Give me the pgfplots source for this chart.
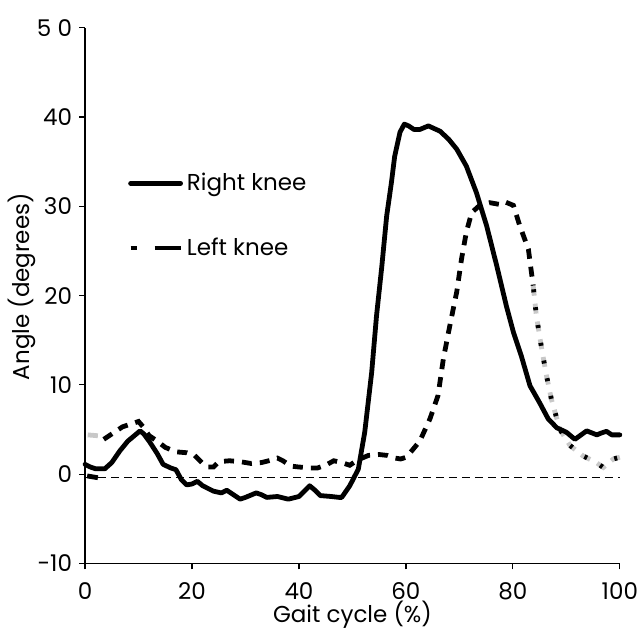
\documentclass[border=0pt]{standalone}
\usepackage{fontspec}
\setmainfont{Poppins}
\usepackage{pgfplots}
\pgfplotsset{compat=1.18}
\definecolor{tailgray}{RGB}{200,200,200}
\tikzset{
  rk/.style={black, line width=2.4pt, line join=round, line cap=round, solid},
  lk/.style={black, line width=2.4pt, dash pattern=on 5pt off 4pt},
}
\newcommand{\lblfont}{\fontsize{11.5}{13}\selectfont}
\begin{document}
\begin{tikzpicture}
\begin{axis}[
    scale only axis,
    width=267.5pt, height=268pt,
    xmin=0, xmax=100,
    ymin=-10, ymax=50,
    axis lines=left,
    axis line style={-, line width=0.6pt},
    tick align=outside,
    major tick length=3pt,
    tick style={line width=0.6pt, black},
    xtick={0,20,40,60,80,100},
    xticklabels={0,20,40,60,80,100},
    ytick={-10,0,10,20,30,40,50},
    yticklabels={-10,0,10,20,30,40,5\ 0},
    tick label style={font=\lblfont},
    xticklabel style={yshift=-3pt},
    xlabel={Gait cycle (\%)},
    ylabel={Angle (degrees)},
    label style={font=\lblfont},
    xlabel style={at={(axis cs:50,-15.7)}, anchor=center},
    ylabel style={at={(axis cs:-11.8,21)}, anchor=center},
    clip=false,
    legend style={at={(axis cs:8,34.2)}, anchor=north west, draw=none, fill=none,
        row sep=18pt, font=\lblfont, inner sep=0pt},
    legend cell align=left,
    legend image code/.code={\draw[#1] (0pt,0pt) -- (25pt,0pt);},
]
\addlegendimage{rk}
\addlegendentry{Right knee}
\addlegendimage{black, line width=2.4pt, dash pattern=on 3pt off 9pt on 13pt off 0pt}
\addlegendentry{Left knee}

% zero reference
\addplot[forget plot, black, line width=0.5pt, dash pattern=on 4pt off 2.5pt]
coordinates {(0,-0.4) (100,-0.4)};

% start pieces
\addplot[forget plot, tailgray, line width=2.4pt]
coordinates {(0.5,4.4) (2.4,4.3)};
\addplot[forget plot, black, line width=2.4pt]
coordinates {(0.4,-0.2) (2.4,-0.4)};

% left knee, main part
\addplot[forget plot, lk]
coordinates {
(3.5,3.9) (5.5,4.7) (7,5.3) (8.5,5.6) (10,5.9) (11,5.2) (12,4.3) (13.5,3.7)
(15,3.0) (17,2.5) (19,2.4) (20.5,2.1) (22,1.2) (23,0.8) (24,0.8) (25,1.4)
(27,1.5) (29,1.4) (31,1.2) (33,1.3) (35,1.6) (36,1.8) (37,1.5) (38.5,0.9)
(40,0.8) (42,0.7) (43.5,0.7) (45,1.0) (46.5,1.5) (48,1.3) (49.5,1.0) (51,1.6)
(53,2.1) (55,2.2) (56.5,2.1) (58,1.8) (59,1.7) (60.1,1.9) (62.6,3.7) (64.5,6.2)
(66,8.8) (67,12.9) (68.2,16.6) (69.5,20.4) (70.4,24.1) (71.3,27.1) (72.3,29.3)
(73.8,30.1) (75.7,30.4) (77.6,30.2) (78.5,30.5) (80.1,30.1) (81.3,27.8)
(82.9,25.2) (83.8,21.1)
};

% left knee, tail
\addplot[forget plot, tailgray, line width=2.4pt, dash pattern=on 5pt off 4pt]
coordinates {
(83.8,21.1) (84.4,17.7) (85.4,14) (86.3,11) (87.2,8.4) (87.9,6.9) (88.8,5)
(90.7,3.2) (93.1,2.05) (95.6,1.3) (96.9,0.75) (98.8,1.7) (100,1.9)
};
\addplot[forget plot, black, line width=2.4pt, dash pattern=on 1.5pt off 7.5pt, dash phase=-1.8pt]
coordinates {
(83.8,21.1) (84.4,17.7) (85.4,14) (86.3,11) (87.2,8.4) (87.9,6.9) (88.8,5)
(90.7,3.2) (93.1,2.05) (95.6,1.3) (96.9,0.75) (98.8,1.7) (100,1.9)
};

% right knee
\addplot[forget plot, rk]
coordinates {
(0,1.1) (1,0.8) (2,0.6) (3.7,0.6) (5,1.3) (6.5,2.6) (8,3.7) (10.3,4.85)
(11,4.5) (12.1,3.6) (13.5,2.3) (14.6,1.1) (16,0.7) (17,0.5) (18,-0.6)
(19,-1.2) (20,-1.1) (21,-0.8) (22,-1.3) (24,-1.9) (25.5,-2.1) (26.5,-1.8)
(28,-2.4) (29,-2.8) (30,-2.6) (32,-2.1) (33,-2.3) (34,-2.6) (36,-2.5)
(38,-2.8) (40,-2.5) (41,-1.9) (42,-1.3) (43,-1.8) (44,-2.4) (46,-2.5)
(47.5,-2.6) (48,-2.6) (49.5,-1.3) (51.1,0.56) (52.3,4.7) (53.6,11.4)
(54.5,17.7) (55.5,23.3) (56.4,28.9) (57.3,32.7) (57.9,35.6) (58.9,38.3)
(59.7,39.2) (60.5,39.0) (61.5,38.6) (62.6,38.6) (64.2,39.0) (66.4,38.4)
(68,37.5) (69.5,36.4) (71.3,34.5) (73.2,31.5) (75.1,27.8) (77,23.3)
(78.8,18.8) (80.1,15.9) (81.6,13.2) (83.2,9.9) (85,8) (86.6,6.2) (88.2,5.2)
(90,4.7) (91.6,3.9) (93.8,4.85) (95.7,4.4) (96.5,4.6) (97.5,4.8) (98.5,4.4)
(100,4.4)
};

\coordinate (bbsw) at (axis cs:-15.9,-17.5);
\coordinate (bbne) at (axis cs:103.4,53.1);
\end{axis}
\pgfresetboundingbox
\path[use as bounding box] (bbsw) rectangle (bbne);
\end{tikzpicture}
\end{document}
